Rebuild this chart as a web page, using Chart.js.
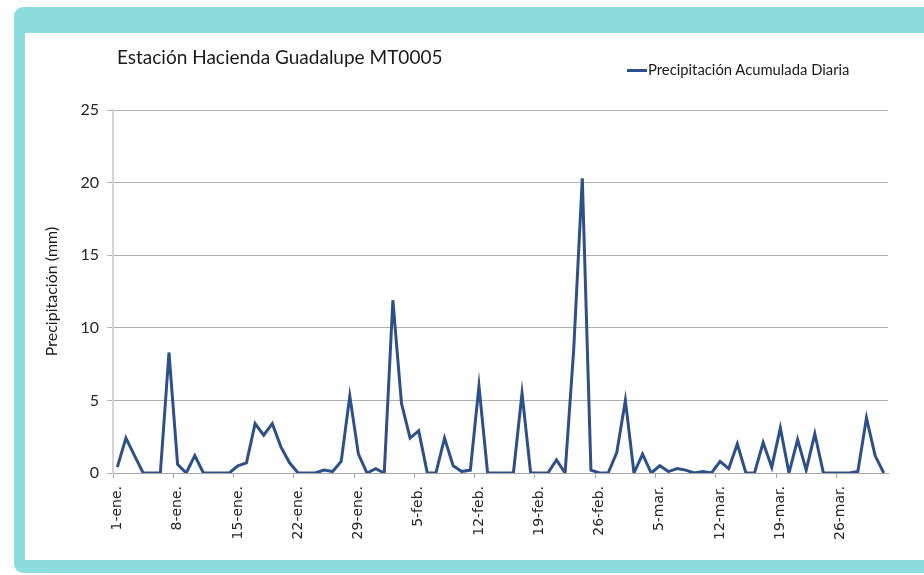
<!DOCTYPE html>
<html>
<head>
<meta charset="utf-8">
<script src="https://cdn.jsdelivr.net/npm/chart.js@4"></script>
<style>
  html, body { margin: 0; padding: 0; width: 924px; height: 575px; overflow: hidden; background: #ffffff; }
  .frame { position: absolute; left: 14px; top: 7px; width: 930px; height: 566px; background: #8EDDDE; border-radius: 9px; }
  .panel { position: absolute; left: 25px; top: 33px; width: 899px; height: 527px; background: #ffffff; }
  .title { position: absolute; left: 117px; top: 45px; font-family: Lato, "Open Sans", sans-serif; font-size: 19px; color: #1a1a1a; white-space: nowrap; }
  .legend { position: absolute; left: 627px; top: 60px; font-family: Lato, "Open Sans", sans-serif; font-size: 14.8px; color: #1a1a1a; white-space: nowrap; }
  .legend .swatch { display: inline-block; width: 20px; height: 3px; background: #2D5088; vertical-align: middle; margin-right: 1px; position: relative; top: -1px; }
  canvas { position: absolute; left: 0; top: 0; }
</style>
</head>
<body>
<div class="frame"></div>
<div class="panel"><canvas id="c" width="899" height="527"></canvas></div>
<div class="title">Estación Hacienda Guadalupe MT0005</div>
<div class="legend"><span class="swatch"></span>Precipitación Acumulada Diaria</div>
<script>
const chartTitle = "Estación Hacienda Guadalupe MT0005";
const seriesName = "Precipitación Acumulada Diaria";
const yAxisTitle = "Precipitación (mm)";

const days = [
  "1-ene.","2-ene.","3-ene.","4-ene.","5-ene.","6-ene.","7-ene.","8-ene.","9-ene.","10-ene.",
  "11-ene.","12-ene.","13-ene.","14-ene.","15-ene.","16-ene.","17-ene.","18-ene.","19-ene.","20-ene.",
  "21-ene.","22-ene.","23-ene.","24-ene.","25-ene.","26-ene.","27-ene.","28-ene.","29-ene.","30-ene.","31-ene.",
  "1-feb.","2-feb.","3-feb.","4-feb.","5-feb.","6-feb.","7-feb.","8-feb.","9-feb.","10-feb.",
  "11-feb.","12-feb.","13-feb.","14-feb.","15-feb.","16-feb.","17-feb.","18-feb.","19-feb.","20-feb.",
  "21-feb.","22-feb.","23-feb.","24-feb.","25-feb.","26-feb.","27-feb.","28-feb.",
  "1-mar.","2-mar.","3-mar.","4-mar.","5-mar.","6-mar.","7-mar.","8-mar.","9-mar.","10-mar.",
  "11-mar.","12-mar.","13-mar.","14-mar.","15-mar.","16-mar.","17-mar.","18-mar.","19-mar.","20-mar.",
  "21-mar.","22-mar.","23-mar.","24-mar.","25-mar.","26-mar.","27-mar.","28-mar.","29-mar.","30-mar.","31-mar."
];

const tickLabels = ["1-ene.","8-ene.","15-ene.","22-ene.","29-ene.","5-feb.","12-feb.","19-feb.","26-feb.","5-mar.","12-mar.","19-mar.","26-mar."];

const precipitation = [
  0.4, 2.4, 1.2, 0, 0, 0, 8.3, 0.6, 0, 1.2,
  0, 0, 0, 0, 0.5, 0.7, 3.4, 2.6, 3.4, 1.8,
  0.7, 0, 0, 0, 0.2, 0.1, 0.8, 5.3, 1.3, 0, 0.3,
  0, 11.9, 4.8, 2.4, 2.9, 0, 0, 2.4, 0.5, 0.1,
  0.2, 6.0, 0, 0, 0, 0, 5.5, 0, 0, 0,
  0.9, 0, 8.5, 20.3, 0.2, 0, 0, 1.4,
  5.0, 0, 1.3, 0, 0.5, 0.1, 0.3, 0.2, 0, 0.1,
  0, 0.8, 0.3, 2.0, 0, 0, 2.1, 0.4, 3.1, 0,
  2.3, 0.2, 2.7, 0, 0, 0, 0, 0.1, 3.8, 1.2, 0
];

const yTicks = [0, 5, 10, 15, 20, 25];

new Chart(document.getElementById('c'), {
  type: 'line',
  data: {
    labels: days,
    datasets: [{
      label: seriesName,
      data: precipitation,
      borderColor: '#2D5088',
      backgroundColor: '#2D5088',
      borderWidth: 3,
      pointRadius: 0,
      tension: 0,
      fill: false
    }]
  },
  options: {
    responsive: false,
    animation: false,
    layout: { padding: { top: 77, right: 36, left: 0, bottom: 0 } },
    plugins: {
      legend: { display: false },
      title: { display: false },
      tooltip: { enabled: false }
    },
    scales: {
      x: {
        type: 'category',
        offset: true,
        afterFit(scale) { scale.height = 87; },
        grid: {
          offset: true,
          drawOnChartArea: false,
          drawTicks: true,
          tickLength: 5,
          color: (ctx) => (ctx.index % 7 === 0 && ctx.index < days.length) ? '#a6a6a6' : 'rgba(0,0,0,0)'
        },
        border: { color: '#a6a6a6', width: 1 },
        ticks: {
          autoSkip: false,
          maxRotation: 90,
          minRotation: 90,
          padding: 8,
          color: '#262626',
          font: { family: 'DejaVu Sans', size: 14 },
          callback: function(value, index) {
            const lab = days[index];
            return tickLabels.includes(lab) ? lab : '';
          }
        }
      },
      y: {
        min: 0,
        max: 25,
        afterFit(scale) { scale.width = 88; },
        afterBuildTicks(scale) { scale.ticks = yTicks.map(v => ({ value: v })); },
        grid: {
          color: '#b0b0b0',
          lineWidth: 1,
          tickLength: 6
        },
        border: { color: '#d4d4d4', width: 2 },
        ticks: {
          padding: 8,
          color: '#262626',
          font: { family: 'Lato', size: 16 }
        },
        title: {
          display: true,
          text: yAxisTitle,
          color: '#1a1a1a',
          font: { family: 'Lato', size: 16 },
          padding: { top: 17, bottom: 0 }
        }
      }
    }
  }
});
</script>
</body>
</html>
